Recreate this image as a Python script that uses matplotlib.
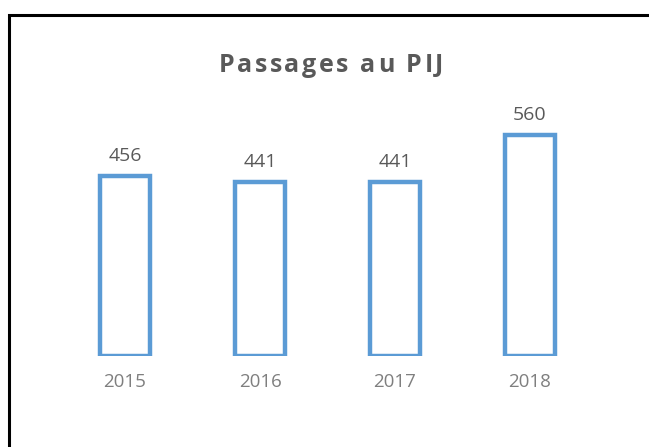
import matplotlib
matplotlib.use('Agg')
import matplotlib.pyplot as plt
from matplotlib.patches import Rectangle

plt.rcParams['font.family'] = ['Open Sans', 'DejaVu Sans']

annees = ['2015', '2016', '2017', '2018']
passages = [456, 441, 441, 560]
titre = 'Passages au PIJ'

W, H = 649, 447
fig = plt.figure(figsize=(W / 100, H / 100), dpi=100)

# cadre du graphique (seuls le haut et la gauche sont visibles)
fig.patches.append(Rectangle((9 / W, -0.1), 1.0, (H - 15) / H + 0.1,
                             transform=fig.transFigure, fill=False,
                             edgecolor='black', linewidth=2.2))

ax = fig.add_axes([57.5 / W, (H - 356) / H, 540 / W, (356 - 119.4) / H])
x = range(len(annees))
bars = ax.bar(x, passages, width=0.37, facecolor='white',
              edgecolor='#5B9BD5', linewidth=3.2)
ax.set_xlim(-0.5, len(annees) - 0.5)
ax.set_ylim(0, 600)

for b, v in zip(bars, passages):
    ax.annotate(str(v), (b.get_x() + b.get_width() / 2, v), xytext=(0, 8),
                textcoords='offset points', ha='center', va='bottom',
                fontsize=14, color='#595959')

ax.set_xticks(list(x))
ax.set_xticklabels(annees, fontsize=13.5, color='#7F7F7F')
ax.tick_params(axis='x', length=0, pad=12)
ax.set_yticks([])
for s in ax.spines.values():
    s.set_visible(False)

# titre avec un léger espacement des lettres
rend = fig.canvas.get_renderer()
style = dict(fontsize=18, fontweight='bold', color='#595959')

def largeur(s):
    t = fig.text(0, 0, s, **style)
    w = t.get_window_extent(rend).width
    t.remove()
    return w

cible = 225  # largeur du titre dans l'original, en pixels
esp = (cible - largeur(titre)) / (len(titre) - 1)
x0 = 331 - cible / 2
for i, c in enumerate(titre):
    if c == ' ':
        continue
    xi = x0 + (largeur(titre[:i]) + esp * i if i else 0)
    fig.text(xi / W, (H - 72) / H, c, ha='left', va='baseline', **style)

fig.savefig('out.png', dpi=100)
